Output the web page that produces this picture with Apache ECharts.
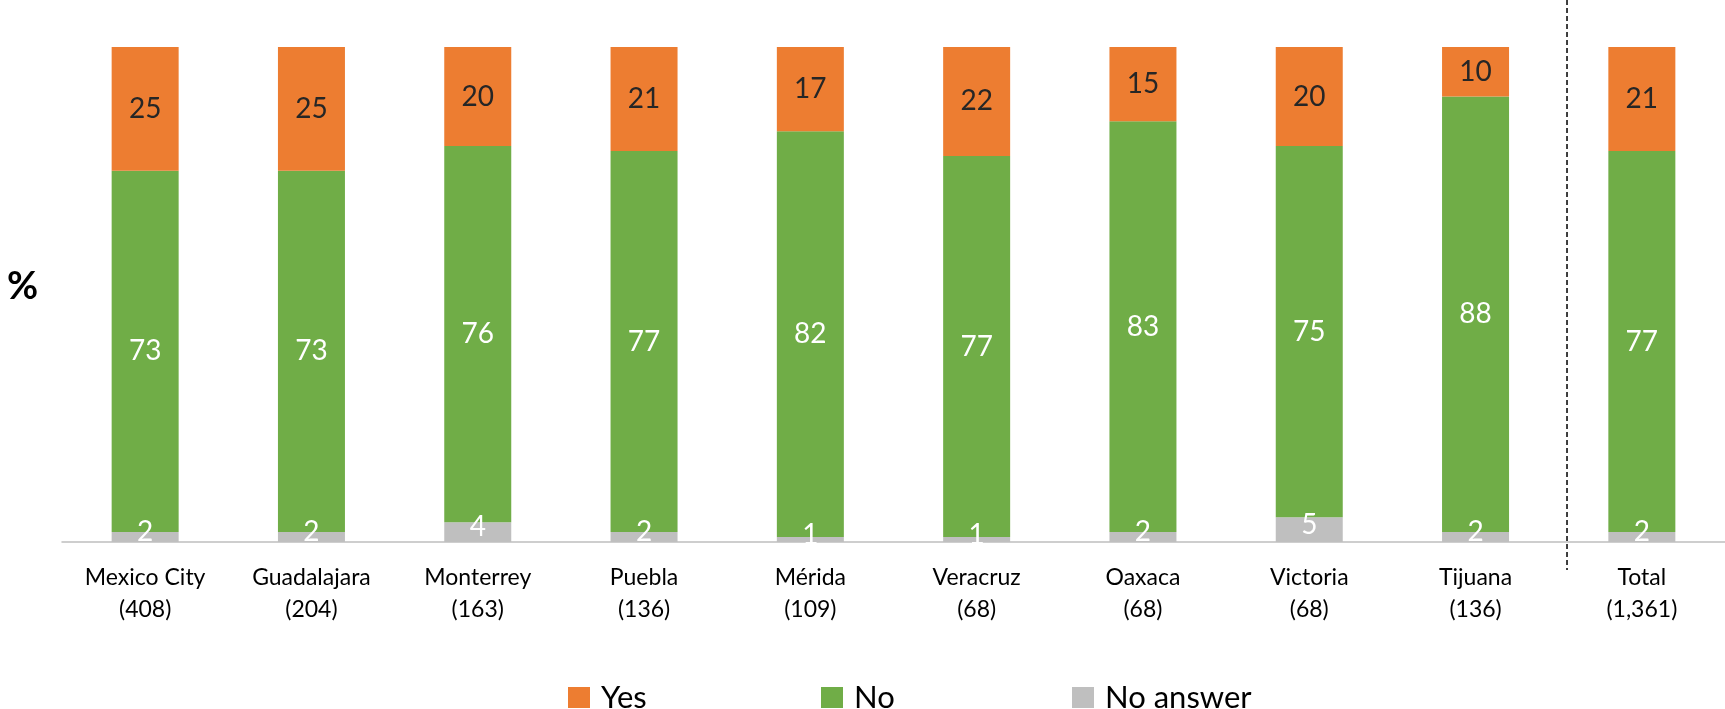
<!DOCTYPE html>
<html>
<head>
<meta charset="utf-8">
<script src="https://cdn.jsdelivr.net/npm/echarts@6/dist/echarts.min.js"></script>
<style>
  html, body { margin: 0; padding: 0; background: #ffffff; }
  #chart { width: 1725px; height: 709px; }
</style>
</head>
<body>
<div id="chart"></div>
<script>
const categories = ['Mexico City\n(408)', 'Guadalajara\n(204)', 'Monterrey\n(163)', 'Puebla\n(136)', 'Mérida\n(109)', 'Veracruz\n(68)', 'Oaxaca\n(68)', 'Victoria\n(68)', 'Tijuana\n(136)', 'Total\n(1,361)'];
const yesValues = [25, 25, 20, 21, 17, 22, 15, 20, 10, 21];
const noValues = [73, 73, 76, 77, 82, 77, 83, 75, 88, 77];
const noAnswerValues = [2, 2, 4, 2, 1, 1, 2, 5, 2, 2];
const seriesNames = ['Yes', 'No', 'No answer'];
const yAxisName = '%';

const FONT = 'Lato, "Noto Sans", sans-serif';
const chart = echarts.init(document.getElementById('chart'), null, { renderer: 'canvas' });

function legendFor(name, left) {
  return {
    data: [name], left: left, top: 677, orient: 'horizontal',
    itemWidth: 22, itemHeight: 21, icon: 'rect', selectedMode: false,
    textStyle: { fontFamily: FONT, fontSize: 31, color: '#000000', padding: [0, 0, 0, 6] }
  };
}

const option = {
  animation: false,
  backgroundColor: '#ffffff',
  grid: { left: 62, top: 47, bottom: 167, width: 1665, containLabel: false },
  legend: [legendFor(seriesNames[0], 563), legendFor(seriesNames[1], 816), legendFor(seriesNames[2], 1067)],
  xAxis: {
    type: 'category', data: categories,
    axisLine: { show: true, lineStyle: { color: '#bfbfbf', width: 1.5 } },
    axisTick: { show: false },
    axisLabel: { fontFamily: FONT, fontSize: 23, color: '#000000', lineHeight: 32, margin: 20, interval: 0 }
  },
  yAxis: {
    type: 'value', min: 0, max: 100, interval: 20,
    axisLine: { show: false }, axisTick: { show: false }, axisLabel: { show: false },
    splitLine: { show: false }
  },
  series: [
    {
      name: seriesNames[2], type: 'bar', stack: 's', data: noAnswerValues, barWidth: 67,
      itemStyle: { color: '#bfbfbf' },
      label: { show: true, position: 'inside', offset: [0, -5], color: '#ffffff', fontFamily: FONT, fontSize: 28 }
    },
    {
      name: seriesNames[1], type: 'bar', stack: 's', data: noValues, barWidth: 67,
      itemStyle: { color: '#70ad47' },
      label: { show: true, position: 'inside', color: '#ffffff', fontFamily: FONT, fontSize: 28 }
    },
    {
      name: seriesNames[0], type: 'bar', stack: 's', data: yesValues, barWidth: 67,
      itemStyle: { color: '#ed7d31' },
      label: { show: true, position: 'inside', color: '#262626', fontFamily: FONT, fontSize: 28 }
    }
  ]
};
chart.setOption(option);

const xa = chart.convertToPixel({ xAxisIndex: 0 }, categories[8]);
const xb = chart.convertToPixel({ xAxisIndex: 0 }, categories[9]);
const xDash = xa + (xb - xa) * 0.55;
chart.setOption({
  graphic: [
    {
      type: 'line', shape: { x1: xDash, y1: 0, x2: xDash, y2: 570 },
      style: { stroke: '#000000', lineWidth: 1.5, lineDash: [5, 3] }
    },
    {
      type: 'text', left: 7, top: 268,
      style: { text: yAxisName, fontFamily: FONT, fontWeight: 'bold', fontSize: 38, fill: '#000000' }
    }
  ]
});
</script>
</body>
</html>
